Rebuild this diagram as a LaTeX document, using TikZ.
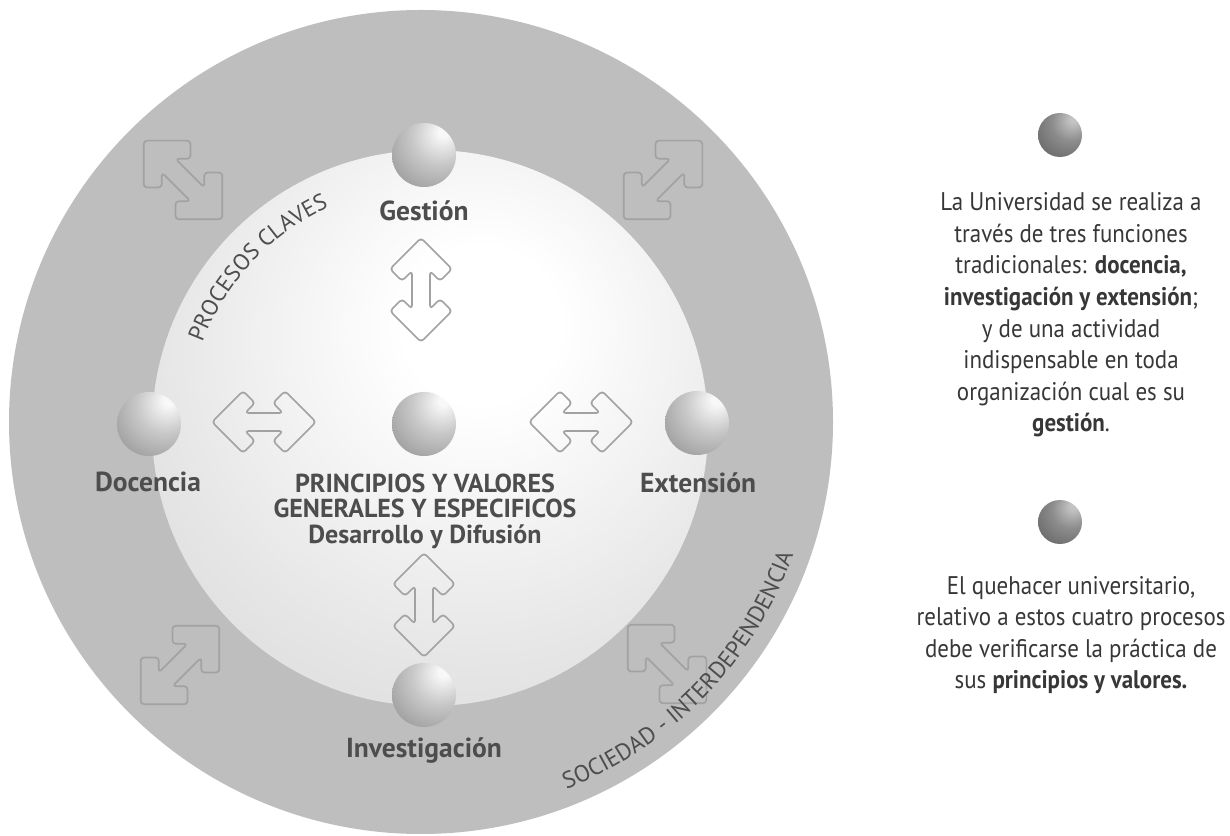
\documentclass[tikz,border=0pt]{standalone}
\usepackage{fontspec}
\setmainfont{PT Sans}
\newfontfamily\narrowfont{PT Sans}[FakeStretch=0.9]
\usetikzlibrary{decorations.text}
\definecolor{ringgray}{RGB}{190,190,190}
\definecolor{labelc}{RGB}{77,77,77}
\definecolor{textc}{RGB}{55,55,55}
\definecolor{arrowc}{RGB}{162,162,162}
\definecolor{ig0}{RGB}{255,255,255}
\definecolor{ig1}{RGB}{230,230,230}
\definecolor{ig2}{RGB}{208,208,208}
\definecolor{ig3}{RGB}{200,200,200}
\definecolor{sa0}{RGB}{248,248,248}
\definecolor{sa1}{RGB}{200,200,200}
\definecolor{sa2}{RGB}{152,152,152}
\definecolor{sa3}{RGB}{118,118,118}
\definecolor{sa4}{RGB}{95,95,95}
\definecolor{sb0}{RGB}{195,195,195}
\definecolor{sb1}{RGB}{140,140,140}
\definecolor{sb2}{RGB}{102,102,102}
\definecolor{sb3}{RGB}{72,72,72}
\definecolor{sb4}{RGB}{55,55,55}
\pgfdeclareradialshading{innerglow}{\pgfpoint{5bp}{10bp}}{color(0bp)=(ig0); color(7bp)=(ig0); color(28bp)=(ig1); color(50bp)=(ig2); color(70bp)=(ig3); color(100bp)=(ig3)}
\pgfdeclareradialshading{sphereA}{\pgfpoint{16bp}{19bp}}{color(0bp)=(sa0); color(4bp)=(sa0); color(22bp)=(sa1); color(45bp)=(sa2); color(65bp)=(sa3); color(80bp)=(sa4); color(100bp)=(sa4)}
\pgfdeclareradialshading{sphereB}{\pgfpoint{16bp}{19bp}}{color(0bp)=(sb0); color(4bp)=(sb0); color(22bp)=(sb1); color(45bp)=(sb2); color(65bp)=(sb3); color(80bp)=(sb4); color(100bp)=(sb4)}
\tikzset{
  arrowline/.style={draw=arrowc, line width=1.7pt, rounded corners=3.5pt, line join=round},
  dblarrow/.pic={
    \draw[arrowline] (52,0) -- (21,-31) -- (9,-19) -- (19,-9) -- (-19,-9) -- (-9,-19)
      -- (-21,-31) -- (-52,0) -- (-21,31) -- (-9,19) -- (-19,9) -- (19,9) -- (9,19)
      -- (21,31) -- cycle;
  },
  sphere/.style={circle, minimum size=64pt, inner sep=0pt, shading=sphereA},
  sphereb/.style={circle, minimum size=44pt, inner sep=0pt, shading=sphereB},
  lab/.style={font=\bfseries\fontsize{27.5}{27.5}\selectfont, text=labelc, inner sep=0pt, anchor=base},
  centertxt/.style={font=\bfseries\fontsize{26}{25.5}\selectfont, text=labelc, align=center, inner sep=0pt},
  sidetxt/.style={font=\narrowfont\fontsize{25.5}{31.6}\selectfont, text=textc, align=center, inner sep=0pt}
}
\begin{document}
\begin{tikzpicture}[x=1pt,y=1pt]
\useasboundingbox (0,0) rectangle (1230,835);
\fill[white] (0,0) rectangle (1230,835);
% circles
\fill[ringgray] (421,413) circle[radius=412];
\shade[shading=innerglow] (430,407) circle[radius=278];
% diagonal arrows in the outer ring
\pic[rotate=-45, scale=1.07] at (183,655) {dblarrow};
\pic[rotate=45, scale=1.07] at (663,655) {dblarrow};
\pic[rotate=45, scale=1.07] at (180,170) {dblarrow};
\pic[rotate=-45, scale=1.07] at (667,171) {dblarrow};
% inner arrows
\pic[rotate=90] at (421,545) {dblarrow};
\pic[rotate=90] at (424,230) {dblarrow};
\pic at (264,413) {dblarrow};
\pic at (581,413) {dblarrow};
% curved texts
\path[decorate, decoration={text along path, text align=center,
  text={|\fontsize{23}{23}\selectfont\color{labelc}|PROCESOS CLAVES}}]
  (430,407) ++(182:243) arc[start angle=182, end angle=92, radius=243];
\path[decorate, decoration={text along path, text align=center,
  text={|\fontsize{23.5}{23.5}\selectfont\color{labelc}|SOCIEDAD - INTERDEPENDENCIA}}]
  (421,413) ++(-89:395) arc[start angle=-89, end angle=1, radius=395];
% spheres
\node[sphere] (ges) at (424,680) {};
\node[sphere] (doc) at (149,411) {};
\node[sphere] (cen) at (424,411) {};
\node[sphere] (ext) at (697,412) {};
\node[sphere] (inv) at (424,140) {};
% labels
\node[lab] (gesl) at (424,614) {Gestión};
\node[lab] (docl) at (148,343) {Docencia};
\node[lab] (extl) at (698,342) {Extensión};
\node[lab] (invl) at (424,78) {Investigación};
\node[centertxt] (cenl) at (425,324) {PRINCIPIOS Y VALORES\\GENERALES Y ESPECIFICOS\\Desarrollo y Difusión};
% right panel
\node[sphereb] (s1) at (1060,700) {};
\node[sidetxt] (t1) at (1071,520) {La Universidad se realiza a\\través de tres funciones\\tradicionales: \textbf{docencia,}\\\textbf{investigación y extensión};\\y de una actividad\\indispensable en toda\\organización cual es su\\\textbf{gestión}.};
\node[sphereb] (s2) at (1060,313) {};
\node[sidetxt] (t2) at (1071,200) {El quehacer universitario,\\relativo a estos cuatro procesos\\debe verificarse la práctica de\\sus \textbf{principios y valores.}};
\end{tikzpicture}
\end{document}
